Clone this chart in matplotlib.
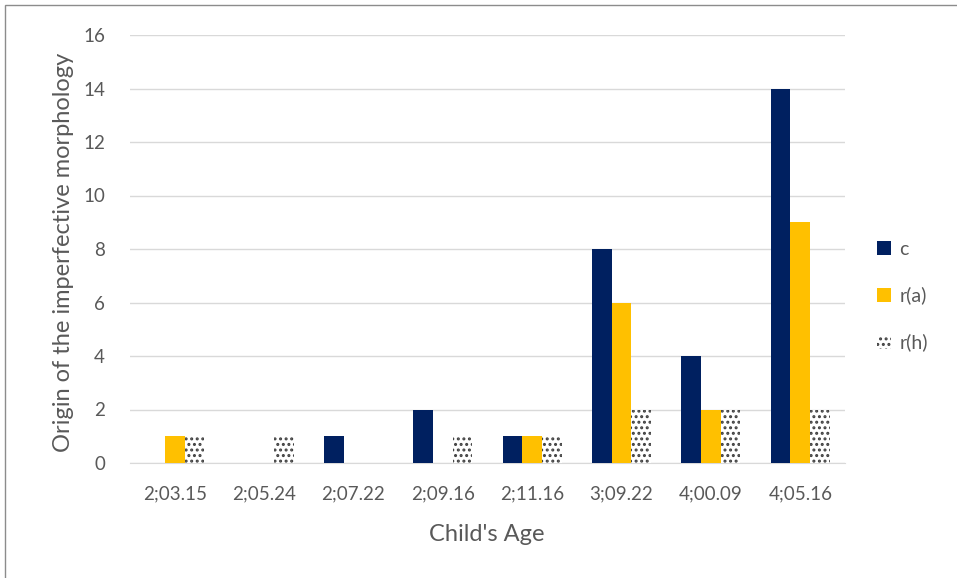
import matplotlib.pyplot as plt
import matplotlib.patches as mpatches
import numpy as np

# Data
edades = ['2;03.15', '2;05.24', '2;07.22', '2;09.16', '2;11.16', '3;09.22', '4;00.09', '4;05.16']
c = [0, 0, 1, 2, 1, 8, 4, 14]
r_a = [1, 0, 0, 0, 1, 6, 2, 9]
r_h = [1, 1, 0, 1, 1, 2, 2, 2]

plt.rcParams['font.family'] = ['Lato', 'DejaVu Sans']
plt.rcParams['hatch.color'] = '#404040'
plt.rcParams['hatch.linewidth'] = 1.4

fig = plt.figure(figsize=(9.57, 5.78), dpi=100)
ax = fig.add_axes([130 / 957, 1 - 463 / 578, 715 / 957, 428 / 578])

# marco exterior
fig.patches.append(mpatches.Rectangle((5 / 957, -0.1), 1.2, 1 - 5 / 578 + 0.1,
                                      transform=fig.transFigure, fill=False,
                                      edgecolor='#8c8c8c', linewidth=1.0))

x = np.arange(len(edades))
w = 0.22
ax.bar(x - w, c, w, color='#002060', label='c', zorder=3)
ax.bar(x, r_a, w, color='#FFC000', label='r(a)', zorder=3)
ax.bar(x + w, r_h, w, color='white', hatch='...', edgecolor='#404040', linewidth=0,
       label='r(h)', zorder=3)

ax.set_xlim(-0.5, len(edades) - 0.5)
ax.set_ylim(0, 16)
ax.set_yticks(range(0, 17, 2))
ax.set_xticks(x)
ax.set_xticklabels(edades)
ax.grid(axis='y', color='#d9d9d9', linewidth=1.0, zorder=0)
for s in ['top', 'right', 'left']:
    ax.spines[s].set_visible(False)
ax.spines['bottom'].set_color('#d9d9d9')
ax.tick_params(length=0, labelsize=13.5, colors='#595959')
ax.tick_params(axis='x', pad=16)
ax.tick_params(axis='y', pad=18)

ax.set_xlabel("Child's Age", fontsize=17, color='#595959')
ax.set_ylabel('Origin of the imperfective morphology', fontsize=17, color='#595959')
ax.xaxis.set_label_coords(0.499, -0.143)
ax.yaxis.set_label_coords(-0.079, 0.493)

leg = ax.legend(loc='center left', bbox_to_anchor=(1.02, 0.39), frameon=False, fontsize=14,
                labelcolor='#595959', handlelength=0.75, handleheight=0.75,
                handletextpad=0.4, labelspacing=1.5)

plt.savefig('out.png', dpi=100)
